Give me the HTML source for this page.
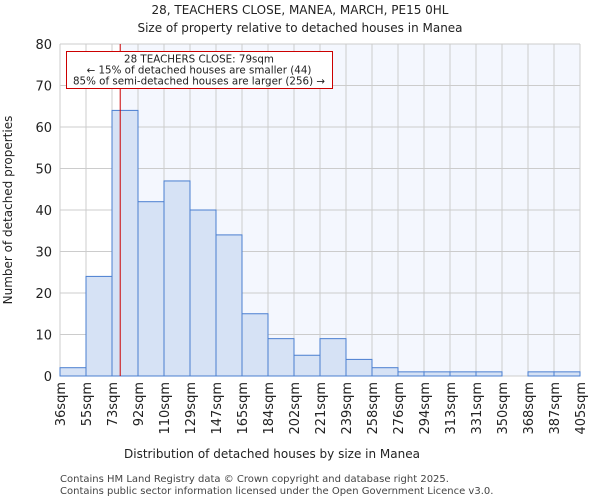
<!DOCTYPE html>
<html><head><meta charset="utf-8"><style>
body{margin:0;background:#fff;font-family:"DejaVu Sans","Liberation Sans",sans-serif;}
svg text{font-family:"DejaVu Sans","Liberation Sans",sans-serif;fill:#222;}
</style></head><body>
<svg id="c" width="600" height="500" xmlns="http://www.w3.org/2000/svg">
<text x="300" y="14" text-anchor="middle" font-size="12">28, TEACHERS CLOSE, MANEA, MARCH, PE15 0HL</text>
<text x="300" y="32" text-anchor="middle" font-size="12">Size of property relative to detached houses in Manea</text>
<g id="plot"></g>
<text x="272" y="458" text-anchor="middle" font-size="12">Distribution of detached houses by size in Manea</text>
<text transform="translate(12,210) rotate(-90)" text-anchor="middle" font-size="12">Number of detached properties</text>
<text x="60" y="482" font-size="10" style="fill:#444">Contains HM Land Registry data © Crown copyright and database right 2025.</text>
<text x="60" y="494" font-size="10" style="fill:#444">Contains public sector information licensed under the Open Government Licence v3.0.</text>
</svg>
<script>
const tickLabels=["36sqm","55sqm","73sqm","92sqm","110sqm","129sqm","147sqm","165sqm","184sqm","202sqm","221sqm","239sqm","258sqm","276sqm","294sqm","313sqm","331sqm","350sqm","368sqm","387sqm","405sqm"];
const binEdges=[36,55,73,92,110,129,147,165,184,202,221,239,258,276,294,313,331,350,368,387,405];
const counts=[2,24,64,42,47,40,34,15,9,5,9,4,2,1,1,1,1,0,1,1];
const yTicks=[0,10,20,30,40,50,60,70,80];
const propertySize=79;
const L=60,R=580,T=44,B=376,yMax=80;
const NS="http://www.w3.org/2000/svg";
const g=document.getElementById('plot');
const n=counts.length,bw=(R-L)/n;
function xi(i){return L+i*bw;}
function xv(v){for(let i=0;i<binEdges.length-1;i++){if(v<=binEdges[i+1])return xi(i)+(v-binEdges[i])/(binEdges[i+1]-binEdges[i])*bw;}return R;}
function y(v){return B-(v/yMax)*(B-T);}
function mk(t,a){const e=document.createElementNS(NS,t);for(const k in a)e.setAttribute(k,a[k]);g.appendChild(e);return e;}
const px=xv(propertySize);
let e=mk('rect',{x:px,y:T,width:R-px,height:B-T,fill:'#f4f7fe'});


for(let i=0;i<=n;i++){e=mk('line',{x1:xi(i),x2:xi(i),y1:T,y2:B,stroke:'#ccc','stroke-width':1});

}
yTicks.forEach(t=>{e=mk('line',{x1:L,x2:R,y1:y(t),y2:y(t),stroke:'#ccc','stroke-width':1});


e=mk('text',{x:L-8,y:y(t)+5,'text-anchor':'end','font-size':13});e.textContent=t;

});
counts.forEach((c,i)=>{if(c<=0)return;e=mk('rect',{x:xi(i),y:y(c),width:bw,height:B-y(c),fill:'#d6e2f5',stroke:'#4a7fd0','stroke-width':1});

});
tickLabels.forEach((t,i)=>{e=mk('text',{transform:`translate(${xi(i)+5},382) rotate(-90)`,'text-anchor':'end','font-size':13});e.textContent=t;

});
e=mk('line',{x1:px,x2:px,y1:T,y2:B,stroke:'#cc0000','stroke-width':1});


e=mk('rect',{x:66.5,y:51.5,width:266,height:37,fill:'#fff',stroke:'#cc0000','stroke-width':1});


["28 TEACHERS CLOSE: 79sqm","← 15% of detached houses are smaller (44)","85% of semi-detached houses are larger (256) →"].forEach((s,i)=>{e=mk('text',{x:199,y:62.5+i*11,'text-anchor':'middle','font-size':10.3});e.textContent=s;

});
</script>
</body></html>
